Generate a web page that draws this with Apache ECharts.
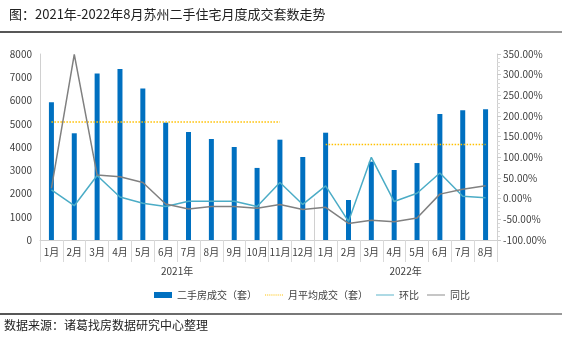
<!DOCTYPE html>
<html>
<head>
<meta charset="utf-8">
<script src="https://cdn.jsdelivr.net/npm/echarts@6/dist/echarts.min.js"></script>
<style>
html,body{margin:0;padding:0;background:#fff;}
#c{width:562px;height:343px;}
</style>
</head>
<body>
<div id="c"></div>
<script>
var months = ['1月','2月','3月','4月','5月','6月','7月','8月','9月','10月','11月','12月','1月','2月','3月','4月','5月','6月','7月','8月'];
var years = ['2021年','2022年'];
var deals = [5930,4590,7160,7355,6520,5050,4645,4345,4000,3100,4315,3570,4615,1720,3370,3010,3310,5420,5580,5620];
var avg2021 = [5070,5070,5070,5070,5070,5070,5070,5070,5070,5070,5070,null,null,null,null,null,null,null,null,null];
var avg2022 = [null,null,null,null,null,null,null,null,null,null,null,null,4110,4110,4110,4110,4110,4110,4110,4110];
var mom = [21,-17,56,4,-11,-19,-6,-6,-6,-19,39,-14,31,-55,100,-7,13,62,6,2];
var yoy = [25,349,57,53,39,-13,-25,-19,-19,-23,-14,-26,-21,-60,-52,-56,-47,11,23,31];

var chart = echarts.init(document.getElementById('c'));
var font = '"Microsoft YaHei","Noto Sans CJK SC",sans-serif';
var tc = '#404040';
var solidIcon = 'path://M0,0H30V1.5H0Z';
var dotIcon = 'path://M0,0h1.5v1.5h-1.5z M3,0h1.5v1.5h-1.5z M6,0h1.5v1.5h-1.5z M9,0h1.5v1.5h-1.5z M12,0h1.5v1.5h-1.5z M15,0h1.5v1.5h-1.5z M18,0h1.5v1.5h-1.5z M21,0h1.5v1.5h-1.5z M24,0h1.5v1.5h-1.5z M27,0h1.5v1.5h-1.5z';
chart.setOption({
  animation:false,
  textStyle:{fontFamily:font},
  title:{text:'图：2021年-2022年8月苏州二手住宅月度成交套数走势',left:4,top:3,
    textStyle:{fontSize:13,fontWeight:'normal',color:'#222',fontFamily:font}},
  graphic:[
    {type:'rect',shape:{x:0,y:31,width:562,height:2},style:{fill:{type:'linear',x:0,y:0,x2:1,y2:0,colorStops:[{offset:0,color:'#555'},{offset:1,color:'#999'}]}}},
    {type:'rect',shape:{x:0,y:313,width:562,height:2},style:{fill:{type:'linear',x:0,y:0,x2:1,y2:0,colorStops:[{offset:0,color:'#555'},{offset:1,color:'#999'}]}}},
    {type:'text',left:4,top:319,style:{text:'数据来源：诸葛找房数据研究中心整理',fontSize:12,fill:'#222',fontFamily:font}}
  ],
  legend:{left:149,top:285,itemWidth:18,itemHeight:6,itemGap:8,
    textStyle:{fontSize:10,color:tc},
    data:[{name:'二手房成交（套）',icon:'rect'},{name:'月平均成交（套）',icon:dotIcon},{name:'环比',icon:solidIcon},{name:'同比',icon:solidIcon}]},
  grid:{left:40,right:65,top:54,bottom:103,containLabel:false},
  xAxis:[
    {type:'category',data:months,position:'bottom',
      axisLine:{show:true,lineStyle:{color:'#d0d0d0'}},
      axisTick:{show:true,interval:0,length:22,lineStyle:{color:'#d9d9d9'}},
      axisLabel:{interval:0,fontSize:10,color:tc,margin:7}},
    {type:'value',min:0,max:20,position:'bottom',offset:0,
      axisLine:{show:false},splitLine:{show:false},
      axisTick:{show:true,customValues:[0,12,20],length:42,lineStyle:{color:'#d0d0d0'}},
      axisLabel:{customValues:[6,16],fontSize:10,color:tc,margin:26,
        formatter:function(v){return v<10?years[0]:years[1];}}}
  ],
  yAxis:[
    {type:'value',min:0,max:8000,interval:1000,
      axisLine:{show:true,lineStyle:{color:'#d0d0d0'}},
      axisTick:{show:false},
      splitLine:{show:false},
      axisLabel:{fontSize:10,color:tc,margin:8,formatter:function(v){return String(v);}}},
    {type:'value',min:-100,max:350,interval:50,position:'right',
      axisLine:{show:true,lineStyle:{color:'#d0d0d0'}},
      axisTick:{show:true,length:4,inside:false,lineStyle:{color:'#c8c8c8'}},
      minorTick:{show:true,splitNumber:5,length:3,lineStyle:{color:'#d9d9d9'}},
      splitLine:{show:false},
      axisLabel:{fontSize:10,color:tc,margin:6,formatter:function(v){return v.toFixed(2)+'%';}}}
  ],
  series:[
    {name:'二手房成交（套）',type:'bar',data:deals,barWidth:5,xAxisIndex:0,yAxisIndex:0,
      itemStyle:{color:'#0070C0'}},
    {name:'月平均成交（套）',type:'line',data:avg2021,symbol:'none',xAxisIndex:0,yAxisIndex:0,
      lineStyle:{color:'#FFC000',width:1.5,type:'dotted'},itemStyle:{color:'#FFC000'}},
    {name:'月平均成交（套）',type:'line',data:avg2022,symbol:'none',xAxisIndex:0,yAxisIndex:0,
      lineStyle:{color:'#FFC000',width:1.5,type:'dotted'},itemStyle:{color:'#FFC000'}},
    {name:'环比',type:'line',data:mom,symbol:'none',xAxisIndex:0,yAxisIndex:1,
      lineStyle:{color:'#4BACC6',width:1.5},itemStyle:{color:'#4BACC6'}},
    {name:'同比',type:'line',data:yoy,symbol:'none',xAxisIndex:0,yAxisIndex:1,
      lineStyle:{color:'#808080',width:1.5},itemStyle:{color:'#808080'}}
  ]
});
</script>
</body>
</html>
